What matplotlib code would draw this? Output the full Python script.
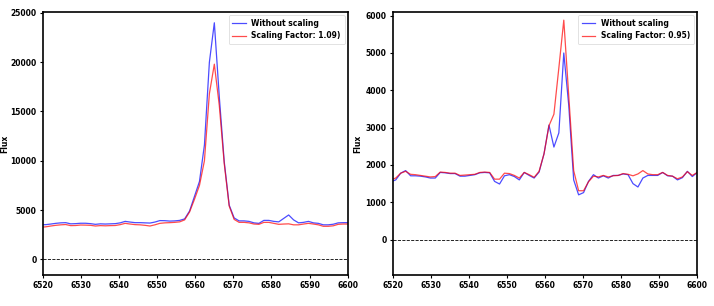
import numpy as np
import matplotlib
matplotlib.use("Agg")
import matplotlib.pyplot as plt

# wavelength grid (Angstrom), regular spectral sampling
wave = np.arange(64) * 1.3 + 6519.5

# left panel: flux without scaling and with scaling factor 1.09
left_raw = [3500, 3520, 3580, 3650, 3700, 3720, 3600, 3620, 3660, 3660,
            3620, 3550, 3600, 3580, 3600, 3620, 3700, 3850, 3780, 3720,
            3720, 3700, 3680, 3780, 3930, 3920, 3880, 3900, 3950, 4100,
            4900, 6400, 7900, 11600, 20000, 24000, 16500, 9900, 5500, 4200,
            3900, 3900, 3850, 3700, 3650, 3950, 3950, 3850, 3800, 4150,
            4500, 4000, 3700, 3750, 3850, 3700, 3650, 3500, 3500, 3560,
            3700, 3720, 3720, 3720]
left_scaled = [3250, 3300, 3380, 3450, 3500, 3530, 3420, 3430, 3480, 3470,
               3450, 3380, 3420, 3400, 3420, 3430, 3520, 3650, 3580, 3520,
               3500, 3450, 3380, 3500, 3650, 3700, 3720, 3750, 3800, 4000,
               4800, 6100, 7500, 10000, 16800, 19800, 15600, 9700, 5400, 4050,
               3750, 3750, 3700, 3580, 3550, 3750, 3750, 3650, 3550, 3580,
               3600, 3500, 3500, 3580, 3650, 3580, 3500, 3350, 3350, 3400,
               3550, 3580, 3580, 3580]

# right panel: flux without scaling and with scaling factor 0.95
right_raw = [1550, 1600, 1780, 1850, 1710, 1710, 1700, 1680, 1650, 1650,
             1800, 1790, 1770, 1770, 1700, 1700, 1720, 1740, 1790, 1800,
             1790, 1560, 1490, 1710, 1740, 1690, 1600, 1800, 1720, 1650,
             1810, 2300, 3070, 2480, 2860, 5000, 3600, 1600, 1200, 1260,
             1560, 1740, 1650, 1710, 1650, 1720, 1720, 1760, 1740, 1500,
             1410, 1650, 1720, 1720, 1720, 1800, 1710, 1700, 1600, 1660,
             1830, 1690, 1800, 1780]
right_scaled = [1600, 1650, 1780, 1830, 1750, 1740, 1720, 1700, 1680, 1690,
                1810, 1800, 1780, 1780, 1720, 1730, 1740, 1750, 1800, 1810,
                1800, 1620, 1620, 1780, 1770, 1720, 1650, 1800, 1740, 1670,
                1830, 2300, 3050, 3360, 4600, 5880, 3860, 1850, 1310, 1310,
                1550, 1700, 1680, 1720, 1680, 1710, 1720, 1770, 1750, 1710,
                1760, 1850, 1760, 1740, 1740, 1800, 1720, 1700, 1630, 1680,
                1820, 1720, 1800, 1780]

panels = [
    (left_raw, left_scaled, "Scaling Factor: 1.09)", (-1600, 25100), -0.111),
    (right_raw, right_scaled, "Scaling Factor: 0.95)", (-950, 6100), -0.099),
]

fig = plt.figure(figsize=(7.14, 3.06), dpi=100)
boxes = [[0.060, 0.101, 0.427, 0.860], [0.550, 0.101, 0.426, 0.860]]

for box, (raw, scaled, label, ylim, labx) in zip(boxes, panels):
    ax = fig.add_axes(box)
    ax.plot(wave, raw, color="blue", alpha=0.7, lw=0.9, label="Without scaling")
    ax.plot(wave, scaled, color="red", alpha=0.7, lw=0.9, label=label)
    ax.axhline(0, color="black", ls="--", lw=0.6)
    ax.set_xlim(6520, 6600)
    ax.set_ylim(*ylim)
    ax.set_ylabel("Flux", fontsize=5.5, fontweight="bold")
    ax.yaxis.set_label_coords(labx, 0.5)
    ax.tick_params(labelsize=5.5, width=0.8, length=2.5, pad=2)
    for t in ax.get_xticklabels() + ax.get_yticklabels():
        t.set_fontweight("bold")
    for s in ax.spines.values():
        s.set_linewidth(1.2)
    leg = ax.legend(loc="upper right", prop={"weight": "bold", "size": 5.5},
                    handlelength=1.8, handletextpad=0.7, borderpad=0.5,
                    labelspacing=0.45, borderaxespad=0.4)
    leg.get_frame().set_linewidth(0.5)

fig.savefig("out.png", dpi=100)
